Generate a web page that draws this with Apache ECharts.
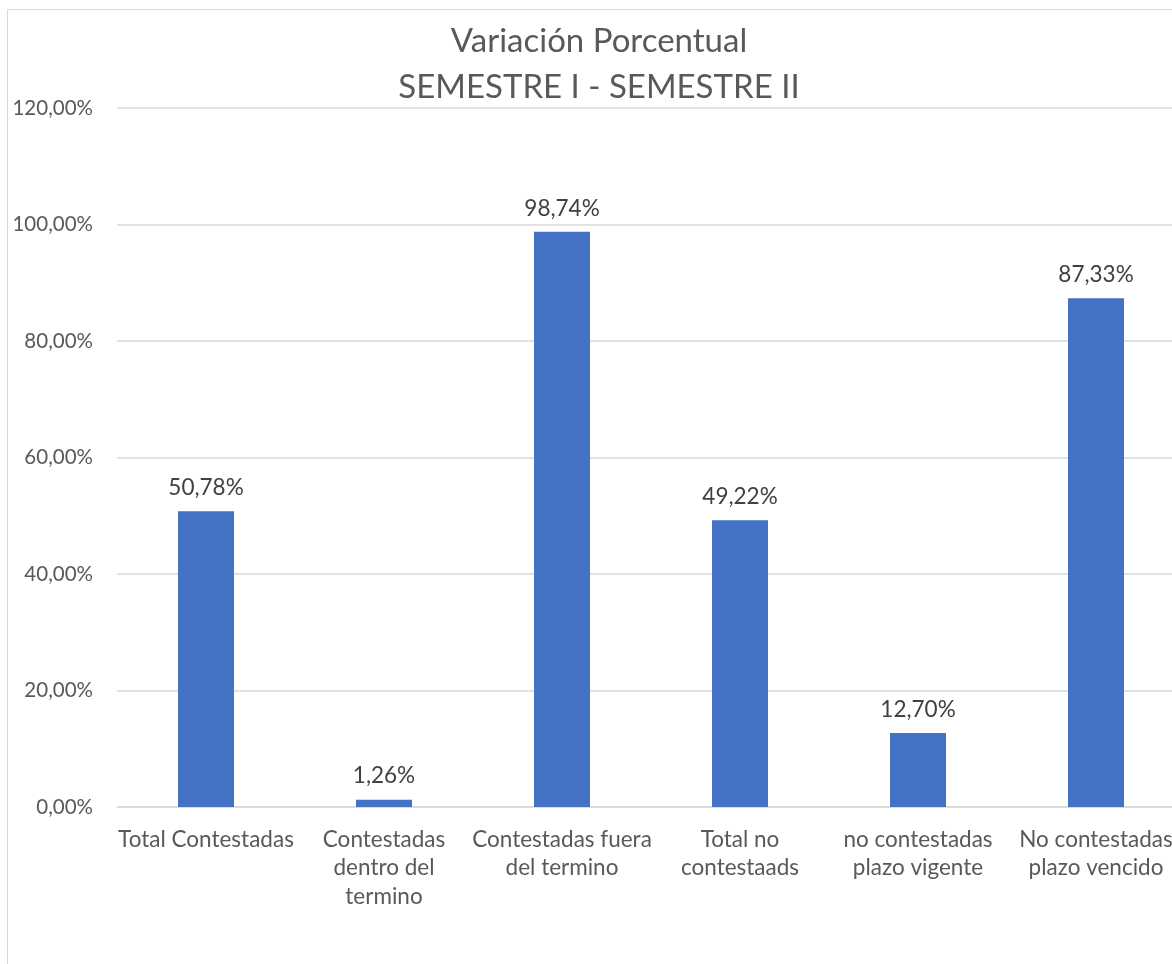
<!DOCTYPE html>
<html>
<head>
<meta charset="utf-8">
<script src="https://cdn.jsdelivr.net/npm/echarts@6/dist/echarts.min.js"></script>
<style>
  html, body { margin: 0; padding: 0; background: #fff; overflow: hidden; }
  #chart { width: 1198px; height: 964px; }
</style>
</head>
<body>
<div id="chart"></div>
<script>
const titleLines = ['Variación Porcentual', 'SEMESTRE I - SEMESTRE II'];
const categories = [
  'Total Contestadas',
  'Contestadas\ndentro del\ntermino',
  'Contestadas fuera\ndel termino',
  'Total no\ncontestaads',
  'no contestadas\nplazo vigente',
  'No contestadas\nplazo vencido'
];
const values = [50.78, 1.26, 98.74, 49.22, 12.70, 87.33];
const yTicks = [0, 20, 40, 60, 80, 100, 120];

const fmt = v => v.toFixed(2).replace('.', ',') + '%';
const FONT = 'Lato, "Open Sans", sans-serif';

const chart = echarts.init(document.getElementById('chart'));
chart.setOption({
  animation: false,
  backgroundColor: '#ffffff',
  title: {
    text: titleLines.join('\n'),
    left: 'center',
    top: 14,
    textStyle: { fontFamily: FONT, fontSize: 33, fontWeight: 'normal', color: '#595959', lineHeight: 45.5 }
  },
  graphic: [{
    type: 'rect',
    shape: { x: 7.5, y: 9.5, width: 3000, height: 3000 },
    style: { fill: 'none', stroke: '#d9d9d9', lineWidth: 1 },
    silent: true
  }],
  grid: { left: 117, right: 13, top: 108, bottom: 157, containLabel: false },
  xAxis: {
    type: 'category',
    data: categories,
    axisLine: { show: true, lineStyle: { color: '#d9d9d9', width: 1.5 } },
    axisTick: { show: false },
    axisLabel: {
      interval: 0, margin: 18, fontFamily: FONT, fontSize: 22.5, color: '#595959', lineHeight: 28.5
    }
  },
  yAxis: {
    type: 'value',
    min: yTicks[0],
    max: yTicks[yTicks.length - 1],
    interval: yTicks[1] - yTicks[0],
    axisLine: { show: false },
    axisTick: { show: false },
    splitLine: { lineStyle: { color: '#d9d9d9', width: 1.5 } },
    axisLabel: { margin: 24, fontFamily: FONT, fontSize: 20.5, color: '#595959', formatter: fmt }
  },
  series: [{
    type: 'bar',
    data: values,
    barWidth: 56,
    itemStyle: { color: '#4472C4' },
    label: {
      show: true, position: 'top', distance: 12,
      fontFamily: FONT, fontSize: 22.5, color: '#404040',
      formatter: p => fmt(p.value)
    }
  }]
});
</script>
</body>
</html>
